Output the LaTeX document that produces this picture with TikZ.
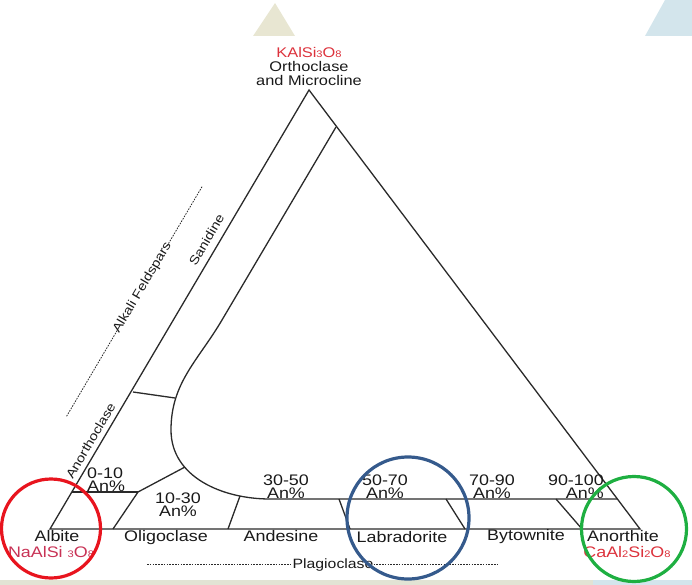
\documentclass[tikz,border=0pt]{standalone}
\usepackage{fontspec}
\setmainfont{Liberation Sans}[FakeStretch=1.17]
\usepackage{xcolor}
\definecolor{linegray}{HTML}{2A2A2A}
\definecolor{formred}{HTML}{DC323C}
\definecolor{formpink}{HTML}{C83255}
\definecolor{ringred}{HTML}{E8141E}
\definecolor{ringblue}{HTML}{355A8C}
\definecolor{ringgreen}{HTML}{1EAF41}
\definecolor{deckbeige}{HTML}{E8E6D2}
\definecolor{deckblue}{HTML}{D3E5EC}
\definecolor{stripbeige}{HTML}{E2E3D4}
\usetikzlibrary{calc, positioning}
\newcommand{\smdig}[1]{{\fontsize{9.5}{9.5}\selectfont #1}}
\tikzset{
    bound/.style={draw=linegray, line width=1.3pt},
    ring/.style={circle, draw, line width=3.2pt, inner sep=0pt},
    mineral/.style={inner sep=0pt, text=black!90,
        font=\fontsize{15.3}{15.3}\selectfont},
    formula/.style={mineral, text=formred},
    rangelbl/.style={mineral},
    sidelbl/.style={inner sep=0pt, rotate=59.46, text=black!90,
        font=\fontsize{12.5}{12.5}\selectfont},
    guide/.style={draw=linegray, line width=0.8pt,
        dash pattern=on 1.6pt off 1.2pt},
}

\begin{document}
\begin{tikzpicture}[x=1pt, y=-1pt]
    \useasboundingbox (0,0) rectangle (692,585);
    % slide decoration
    \fill[deckbeige] (253,36) -- (275,3) -- (295,36) -- cycle;
    \fill[deckblue] (645,36) -- (665,0) -- (692,0) -- (692,36) -- cycle;
    \fill[stripbeige] (0,580) rectangle (593,585);
    \fill[deckblue] (593,580) rectangle (692,585);

    % end members
    \coordinate (ab) at (50,529);
    \coordinate (or) at (309,90);
    \coordinate (an) at (640,529);
    \draw[bound] (ab) -- (or) -- (an) -- cycle;

    % solvus
    \coordinate (sv) at (336,127);
    \draw[bound] (sv) -- (222,320) to[out=239.46, in=90] (171,430)
        to[out=270, in=180] (270,499) -- (617,499);

    % field boundaries
    \draw[bound] (133,392) -- (175,398);
    \draw[bound] (72,492) -- (138,492) coordinate (olg);
    \draw[bound] (olg) -- (185,467);
    \draw[bound] (olg) -- (113,529);
    \foreach \xa/\ya/\xb in {240/496/228, 339/499/350, 446/499/465, 556/499/582}
        \draw[bound] (\xa,\ya) -- (\xb,529);

    % labels
    \node[mineral, anchor=south, align=center,
        font=\fontsize{14}{14.3}\selectfont] (orlbl) at (309,86)
        {\textcolor{formred}{KAlSi\smdig{3}O\smdig{8}}\\Orthoclase\\and Microcline};

    \foreach \nm/\x/\y/\txt in {albite/57/541/Albite, olig/166/541/Oligoclase,
                ande/281/541/Andesine, labr/402/542/Labradorite,
                byto/526/540/Bytownite, anor/623/541/Anorthite}
        \node[mineral, anchor=base] (\nm) at (\x,\y) {\txt};

    \node[formula, text=formpink, anchor=base] (abform) at (51,557)
        {NaAlSi \smdig{3}O\smdig{8}};
    \node[formula, anchor=base] (anform) at (627,557)
        {CaAl\smdig{2}Si\smdig{2}O\smdig{8}};

    \foreach \nm/\anc/\x/\y/\rng in {r0/base west/87/478/0-10, r1/base/178/503/10-30,
                r3/base/286/485/30-50, r5/base/385/485/50-70,
                r7/base/492/485/70-90, r9/base east/604/485/90-100}{
        \node[rangelbl, anchor=\anc] (\nm) at (\x,\y) {\rng};
        \node[rangelbl, anchor=\anc] (\nm pc) at (\x,\y+13) {An\%};
    }

    \node[mineral, anchor=base, font=\fontsize{13.5}{13.5}\selectfont] (plag)
        at (333,568) {Plagioclase};
    \coordinate (plagl) at (147,564);
    \coordinate (plagr) at (497,564);
    \draw[guide] (plagl) -- (plagl -| plag.west);
    \draw[guide] (plag.east |- plagr) -- (plagr);

    \node[sidelbl] (sanid) at ($(ab)!0.644!(or)!12pt!90:(or)$) {Sanidine};
    \node[sidelbl] (anortho) at ($(ab)!0.19!(or)!10pt!90:(or)$) {Anorthoclase};
    \node[sidelbl] (alkali) at ($(ab)!0.5!(or)!43pt!90:(or)$) {Alkali Feldspars};
    \draw[guide] ($(ab)!0.207!(or)!43pt!90:(or)$) -- ($(ab)!0.405!(or)!43pt!90:(or)$);
    \draw[guide] ($(ab)!0.595!(or)!43pt!90:(or)$) -- ($(ab)!0.73!(or)!43pt!90:(or)$);

    % highlight rings
    \node[ring, draw=ringred, minimum size=99pt] (abring) at (51,528.5) {};
    \node[ring, draw=ringblue, minimum size=122pt] (lbring) at (408,518) {};
    \node[ring, draw=ringgreen, minimum size=105pt] (anring) at (634,529) {};
\end{tikzpicture}
\end{document}
